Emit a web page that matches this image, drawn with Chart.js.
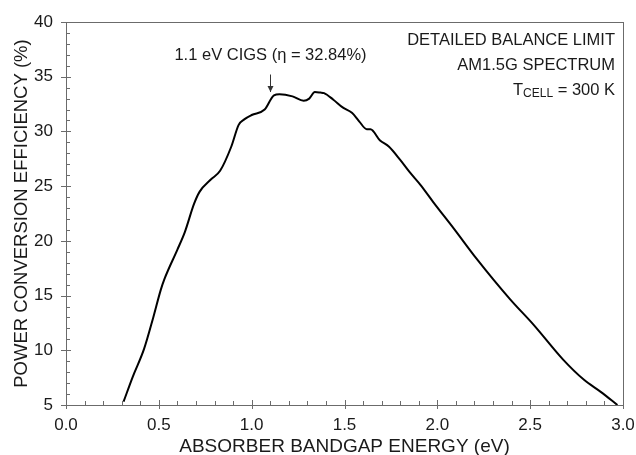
<!DOCTYPE html>
<html>
<head>
<meta charset="utf-8">
<script src="https://cdn.jsdelivr.net/npm/chart.js@4"></script>
<style>
  html, body { margin: 0; padding: 0; background: #fff; }
  #wrap { width: 636px; height: 455px; }
</style>
</head>
<body>
<div id="wrap"><canvas id="chart"></canvas></div>
<script>
// bandgap (eV) and detailed-balance efficiency (%)
const bandgap = [0.31, 0.36, 0.42, 0.47, 0.51, 0.53, 0.60, 0.64, 0.69, 0.72, 0.78, 0.83, 0.89, 0.93, 0.96, 1.00,
                 1.07, 1.12, 1.15, 1.22, 1.28, 1.31, 1.34, 1.37, 1.39, 1.44, 1.49, 1.54, 1.58, 1.62,
                 1.64, 1.69, 1.74, 1.80, 1.85, 1.91, 1.98, 2.09, 2.21, 2.39, 2.52, 2.68, 2.79, 2.88, 2.97];
const efficiency = [5.3, 7.6, 10.1, 13.0, 15.5, 16.5, 19.2, 20.8, 23.4, 24.5, 25.6, 26.4, 28.6, 30.6, 31.1, 31.5,
                    32.0, 33.3, 33.4, 33.2, 32.8, 33.0, 33.6, 33.55, 33.5, 32.9, 32.2, 31.7, 30.9, 30.2,
                    30.2, 29.2, 28.6, 27.4, 26.3, 25.1, 23.5, 21.1, 18.4, 14.7, 12.3, 9.1, 7.3, 6.2, 5.0];

const xTicks = [0, 0.5, 1.0, 1.5, 2.0, 2.5, 3.0];
const yTicks = [5, 10, 15, 20, 25, 30, 35, 40];
const infoLines = ['DETAILED BALANCE LIMIT', 'AM1.5G SPECTRUM'];
const cigsLabel = '1.1 eV CIGS (\u03b7 = 32.84%)';
const cigsGap = 1.1;

const FONT = "'Liberation Sans', Arial, sans-serif";
const AXIS = '#6b6b6b';

const points = bandgap.map((e, i) => ({ x: e, y: efficiency[i] }));

// box, inward ticks and text annotations
const decor = {
  id: 'decor',
  afterDraw(chart) {
    const { ctx, chartArea: a, scales: { x, y } } = chart;
    ctx.save();
    ctx.strokeStyle = AXIS;
    ctx.lineWidth = 1;
    ctx.strokeRect(a.left + 0.5, a.top + 0.5, a.right - a.left, a.bottom - a.top);

    ctx.beginPath();
    for (let v = 0; v <= 30; v++) {
      const px = Math.round(x.getPixelForValue(v / 10)) + 0.5;
      if (v % 5 === 0) { ctx.moveTo(px, a.bottom - 5); ctx.lineTo(px, a.bottom + 4); }
      else { ctx.moveTo(px, a.bottom - 4); ctx.lineTo(px, a.bottom); }
    }
    for (let v = 5; v <= 40; v++) {
      const py = Math.round(y.getPixelForValue(v)) + 0.5;
      if (v % 5 === 0) { ctx.moveTo(a.left - 5, py); ctx.lineTo(a.left + 5, py); }
      else { ctx.moveTo(a.left, py); ctx.lineTo(a.left + 4, py); }
    }
    ctx.stroke();

    // arrow to the CIGS point
    const ax = Math.round(x.getPixelForValue(cigsGap)) + 0.5;
    const y0 = y.getPixelForValue(35.2), y1 = y.getPixelForValue(33.6);
    ctx.strokeStyle = '#333';
    ctx.beginPath();
    ctx.moveTo(ax, y0); ctx.lineTo(ax, y1);
    ctx.stroke();
    ctx.fillStyle = '#333';
    ctx.beginPath();
    ctx.moveTo(ax - 3, y1 - 6); ctx.lineTo(ax + 3, y1 - 6); ctx.lineTo(ax, y1);
    ctx.closePath(); ctx.fill();

    ctx.fillStyle = '#1a1a1a';
    ctx.font = '16.5px ' + FONT;
    ctx.textBaseline = 'middle';
    ctx.textAlign = 'center';
    ctx.fillText(cigsLabel, ax, y.getPixelForValue(36.9));

    ctx.textAlign = 'right';
    const rx = a.right - 8;
    ctx.fillText(infoLines[0], rx, a.top + 18);
    ctx.fillText(infoLines[1], rx, a.top + 43);
    // T_CELL = 300 K with subscript
    const tail = ' = 300 K';
    const tailW = ctx.measureText(tail).width;
    ctx.fillText(tail, rx, a.top + 68);
    ctx.font = '12px ' + FONT;
    const subW = ctx.measureText('CELL').width;
    ctx.fillText('CELL', rx - tailW, a.top + 72);
    ctx.font = '16.5px ' + FONT;
    ctx.fillText('T', rx - tailW - subW, a.top + 68);
    ctx.restore();
  }
};

new Chart(document.getElementById('chart'), {
  type: 'scatter',
  data: {
    datasets: [{
      data: points,
      showLine: true,
      borderColor: '#000',
      borderWidth: 2,
      pointRadius: 0,
      cubicInterpolationMode: 'monotone'
    }]
  },
  options: {
    responsive: true,
    maintainAspectRatio: false,
    animation: false,
    layout: { padding: { top: 22, right: 13, left: 0, bottom: 0 } },
    plugins: { legend: { display: false }, tooltip: { enabled: false } },
    scales: {
      x: {
        type: 'linear', min: 0, max: 3,
        afterBuildTicks: s => { s.ticks = xTicks.map(v => ({ value: v })); },
        afterFit: s => { s.height = 50; s.paddingLeft = 0; s.paddingRight = 0; },
        grid: { display: false, drawTicks: false },
        border: { display: false },
        ticks: {
          color: '#1a1a1a', font: { family: FONT, size: 17 }, padding: 10,
          maxRotation: 0,
          callback: v => v.toFixed(1)
        },
        title: {
          display: true, text: 'ABSORBER BANDGAP ENERGY (eV)',
          color: '#1a1a1a', font: { family: FONT, size: 19 }, padding: { top: 0, bottom: -3 }
        }
      },
      y: {
        min: 5, max: 40,
        afterBuildTicks: s => { s.ticks = yTicks.map(v => ({ value: v })); },
        afterFit: s => { s.width = 66; s.paddingTop = 0; s.paddingBottom = 0; },
        grid: { display: false, drawTicks: false },
        border: { display: false },
        ticks: { color: '#1a1a1a', font: { family: FONT, size: 17 }, padding: 13 },
        title: {
          display: true, text: 'POWER CONVERSION EFFICIENCY (%)',
          color: '#1a1a1a', font: { family: FONT, size: 18.5 }, padding: { top: 11, bottom: 0 }
        }
      }
    }
  },
  plugins: [decor]
});
</script>
</body>
</html>
